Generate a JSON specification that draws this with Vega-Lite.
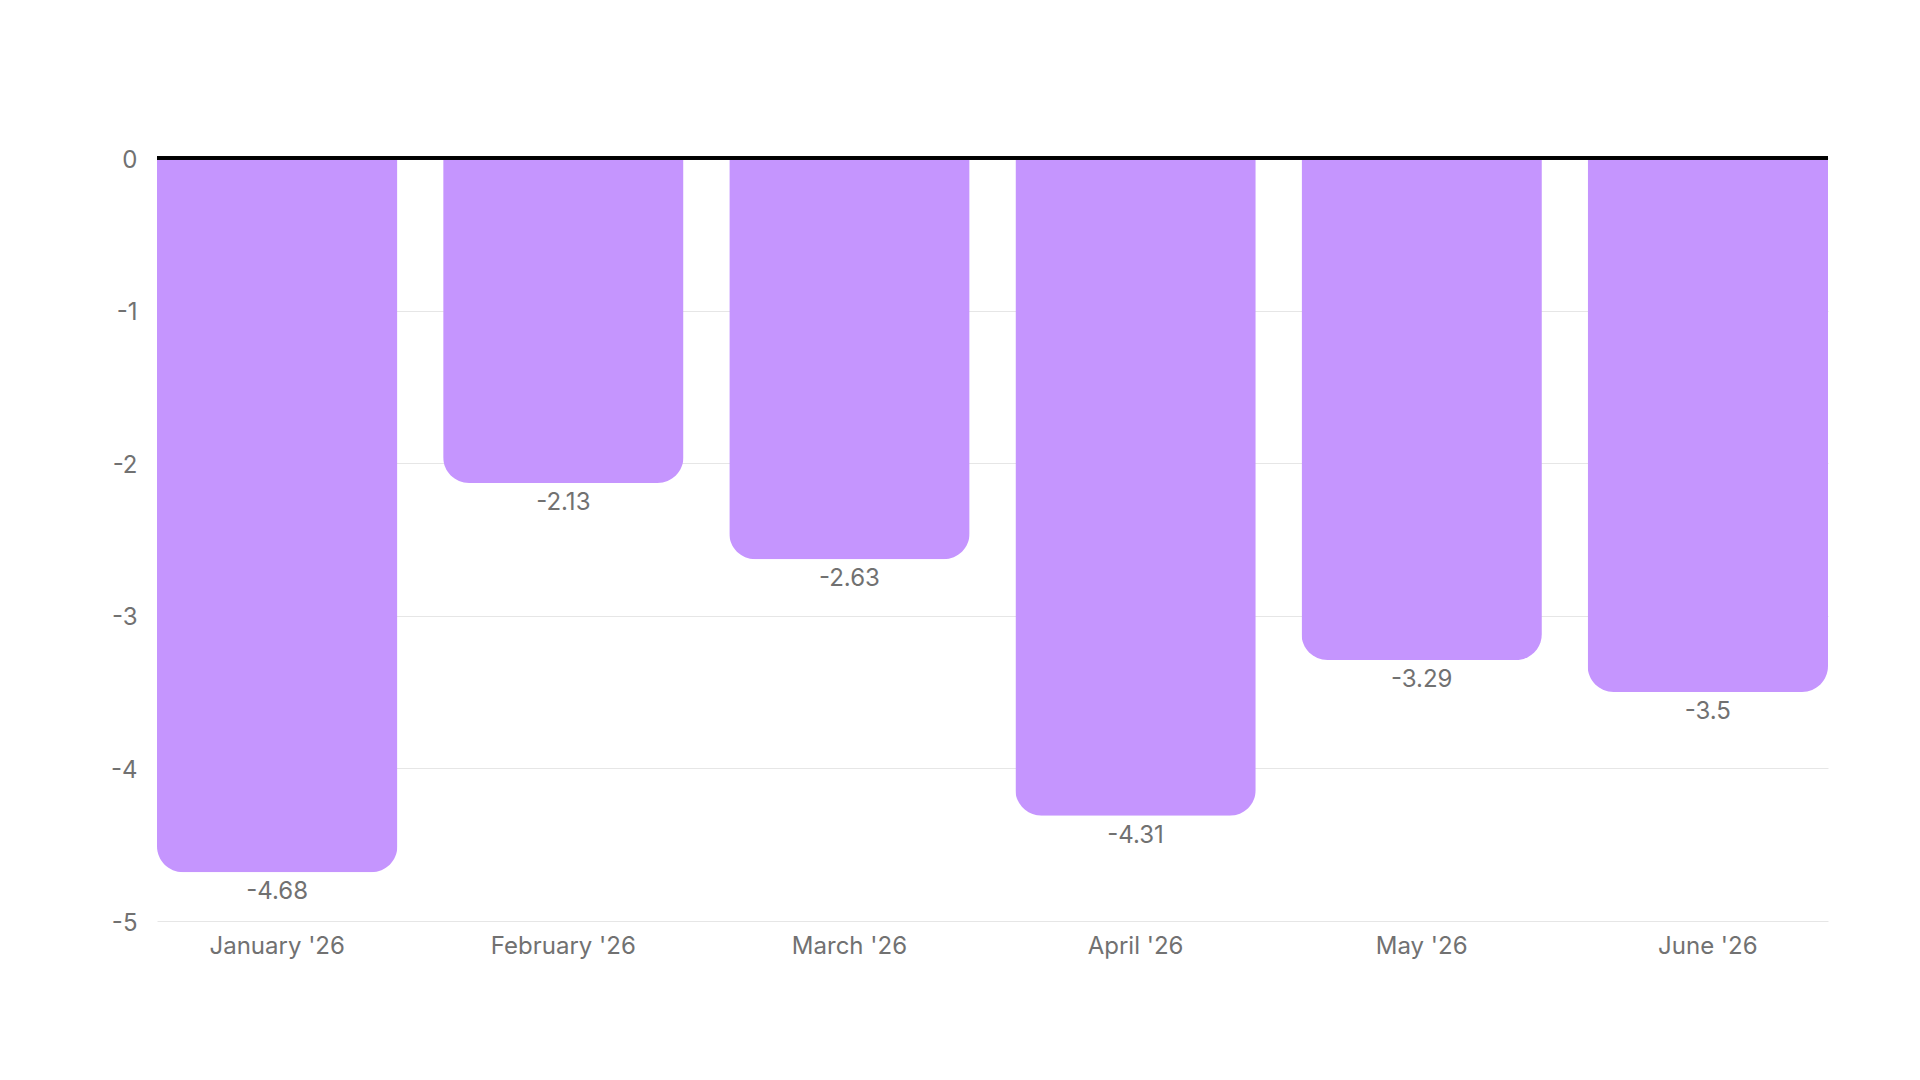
{
  "$schema": "https://vega.github.io/schema/vega-lite/v6.json",
  "width": 1671,
  "height": 763,
  "autosize": {"type": "none"},
  "padding": {"left": 157, "top": 158, "right": 92, "bottom": 159},
  "background": "white",
  "config": {
    "font": "Inter",
    "view": {"stroke": null},
    "axis": {
      "labelFont": "Inter",
      "labelColor": "#717171",
      "labelFontSize": 24
    }
  },
  "data": {
    "values": [
      {"month": "January '26", "value": -4.68},
      {"month": "February '26", "value": -2.13},
      {"month": "March '26", "value": -2.63},
      {"month": "April '26", "value": -4.31},
      {"month": "May '26", "value": -3.29},
      {"month": "June '26", "value": -3.5}
    ]
  },
  "encoding": {
    "x": {
      "field": "month",
      "type": "nominal",
      "sort": null,
      "title": null,
      "scale": {"paddingInner": 0.16, "paddingOuter": 0},
      "axis": {
        "labelAngle": 0,
        "domain": false,
        "ticks": false,
        "tickSize": 0,
        "labelPadding": 13,
        "grid": false
      }
    },
    "y": {
      "field": "value",
      "type": "quantitative",
      "title": null,
      "scale": {"domain": [-5, 0], "nice": false},
      "axis": {
        "values": [-5, -4, -3, -2, -1, 0],
        "labelExpr": "'' + datum.value",
        "domain": false,
        "ticks": false,
        "tickSize": 0,
        "labelPadding": 20,
        "labelOffset": 2,
        "gridColor": "#e6e6e6",
        "gridWidth": 1
      }
    }
  },
  "layer": [
    {
      "mark": {
        "type": "bar",
        "color": "#c595fe",
        "cornerRadiusBottomLeft": 26,
        "cornerRadiusBottomRight": 26
      }
    },
    {
      "mark": {
        "type": "text",
        "fontSize": 24,
        "color": "#717171",
        "baseline": "alphabetic",
        "align": "center",
        "dy": 27
      },
      "encoding": {
        "text": {"field": "value", "type": "nominal"}
      }
    },
    {
      "mark": {"type": "rule", "color": "#000000", "strokeWidth": 3},
      "encoding": {
        "x": {"value": 0},
        "x2": {"value": 1671},
        "y": {"datum": 0}
      }
    }
  ]
}
